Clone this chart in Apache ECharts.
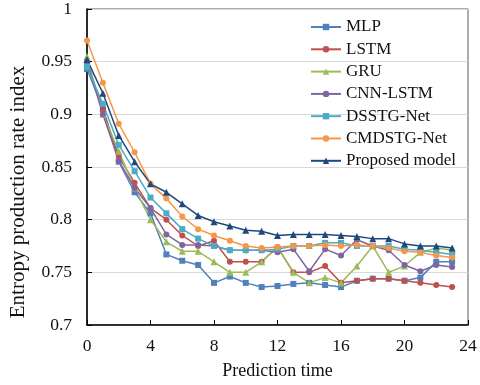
<!DOCTYPE html>
<html>
<head>
<meta charset="utf-8">
<script src="https://cdn.jsdelivr.net/npm/echarts@6/dist/echarts.min.js"></script>
<style>
  html, body { margin: 0; padding: 0; background: #fff; }
  #chart { width: 480px; height: 385px; }
</style>
</head>
<body>
<div id="chart"></div>
<script>
// prediction steps 0..23
const steps = [0, 1, 2, 3, 4, 5, 6, 7, 8, 9, 10, 11, 12, 13, 14, 15, 16, 17, 18, 19, 20, 21, 22, 23]

const mlp = [0.943, 0.905, 0.855, 0.826, 0.806, 0.767, 0.761, 0.757, 0.740, 0.746, 0.740, 0.736,
  0.737, 0.739, 0.740, 0.738, 0.736, 0.742, 0.744, 0.744, 0.742, 0.745, 0.760, 0.760]
const lstm = [0.948, 0.905, 0.860, 0.835, 0.811, 0.800, 0.785, 0.775, 0.780, 0.760, 0.760, 0.760,
  0.774, 0.750, 0.750, 0.756, 0.740, 0.742, 0.744, 0.744, 0.742, 0.740, 0.738, 0.736]
const gru = [0.955, 0.900, 0.865, 0.830, 0.800, 0.779, 0.770, 0.770, 0.760, 0.750, 0.750, 0.760,
  0.774, 0.750, 0.740, 0.745, 0.740, 0.756, 0.775, 0.750, 0.756, 0.769, 0.773, 0.771]
const cnnLstm = [0.950, 0.900, 0.856, 0.830, 0.811, 0.786, 0.776, 0.776, 0.775, 0.771, 0.771, 0.771,
  0.769, 0.772, 0.751, 0.772, 0.766, 0.781, 0.775, 0.771, 0.757, 0.751, 0.757, 0.755]
const dsstg = [0.945, 0.910, 0.871, 0.846, 0.821, 0.806, 0.791, 0.782, 0.775, 0.771, 0.771, 0.771,
  0.772, 0.775, 0.775, 0.778, 0.778, 0.775, 0.775, 0.775, 0.772, 0.771, 0.769, 0.767]
const cmdstg = [0.970, 0.930, 0.891, 0.864, 0.834, 0.820, 0.803, 0.791, 0.785, 0.780, 0.775, 0.773,
  0.774, 0.775, 0.775, 0.776, 0.775, 0.776, 0.775, 0.773, 0.770, 0.769, 0.766, 0.764]
const proposed = [0.952, 0.920, 0.880, 0.855, 0.834, 0.826, 0.815, 0.804, 0.798, 0.794, 0.790, 0.789,
  0.785, 0.786, 0.786, 0.786, 0.785, 0.784, 0.782, 0.782, 0.777, 0.775, 0.775, 0.773]

const seriesNames = ['MLP', 'LSTM', 'GRU', 'CNN-LSTM', 'DSSTG-Net', 'CMDSTG-Net', 'Proposed model']
const seriesData = [mlp, lstm, gru, cnnLstm, dsstg, cmdstg, proposed]
const colors = ['#4F81BD', '#C0504D', '#9BBB59', '#8064A2', '#4BACC6', '#F79646', '#1F497D']
const symbols = ['rect', 'circle', 'triangle', 'circle', 'rect', 'circle', 'triangle']

const font = 'Liberation Serif'

const chart = echarts.init(document.getElementById('chart'))

const series = seriesNames.map((name, i) => ({
  name: name,
  type: 'line',
  data: steps.map((x, j) => [x, seriesData[i][j]]),
  symbol: symbols[i],
  symbolSize: symbols[i] === 'triangle' ? 7 : 6,
  lineStyle: { color: colors[i], width: 1.5 },
  itemStyle: { color: colors[i] },
  emphasis: { disabled: true },
  animation: false
}))

chart.setOption({
  animation: false,
  grid: {
    left: 72,
    right: 12,
    top: 9,
    bottom: 55,
    show: true,
    borderColor: '#595959',
    borderWidth: 1
  },
  legend: {
    orient: 'vertical',
    left: 305,
    top: 13,
    itemWidth: 30,
    itemHeight: 8,
    itemGap: 4.3,
    data: seriesNames,
    textStyle: { fontFamily: font, fontSize: 17, color: '#111', lineHeight: 18 }
  },
  xAxis: {
    type: 'value',
    min: 0,
    max: 24,
    interval: 4,
    name: 'Prediction time',
    nameLocation: 'middle',
    nameGap: 37,
    nameTextStyle: { fontFamily: font, fontSize: 18, color: '#111' },
    axisLine: { lineStyle: { color: '#000', width: 1.5 } },
    axisTick: { inside: true, length: 5, lineStyle: { color: '#000' } },
    axisLabel: { fontFamily: font, fontSize: 17.5, color: '#111', margin: 12 },
    splitLine: { show: false }
  },
  yAxis: {
    type: 'value',
    min: 0.7,
    max: 1,
    interval: 0.05,
    name: 'Entropy production rate index',
    nameLocation: 'middle',
    nameGap: 58,
    nameTextStyle: { fontFamily: font, fontSize: 21, color: '#111', padding: [0, 50, 0, 0] },
    axisLine: { show: true, lineStyle: { color: '#000', width: 1.5 } },
    axisTick: { show: true, inside: true, length: 5, lineStyle: { color: '#000' } },
    axisLabel: { fontFamily: font, fontSize: 17.5, color: '#111', margin: 15 },
    splitLine: { show: true, lineStyle: { color: '#d9d9d9', width: 1 } }
  },
  series: series
})
</script>
</body>
</html>
